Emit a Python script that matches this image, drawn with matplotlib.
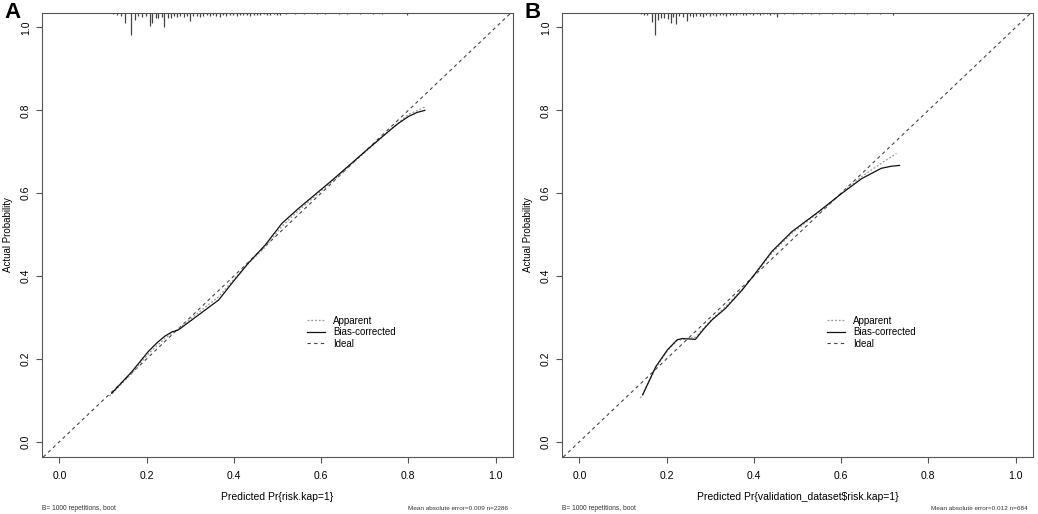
import numpy as np
import matplotlib
matplotlib.use('Agg')
import matplotlib.pyplot as plt

plt.rcParams['font.family'] = ['Liberation Sans', 'DejaVu Sans']

# panel A: calibration curves (predicted, actual)
a_bias_x = [0.120, 0.166, 0.204, 0.225, 0.242, 0.258, 0.273, 0.319, 0.365, 0.395,
            0.433, 0.472, 0.510, 0.548, 0.625, 0.700, 0.750, 0.775, 0.800, 0.820, 0.838]
a_bias_y = [0.117, 0.169, 0.218, 0.240, 0.255, 0.265, 0.270, 0.306, 0.342, 0.382,
            0.431, 0.475, 0.527, 0.563, 0.631, 0.700, 0.745, 0.767, 0.785, 0.795, 0.800]
a_app_x = [0.115, 0.166, 0.204, 0.242, 0.273, 0.319, 0.365, 0.395, 0.433, 0.472,
           0.510, 0.548, 0.625, 0.700, 0.750, 0.800, 0.838]
a_app_y = [0.110, 0.165, 0.212, 0.250, 0.272, 0.312, 0.350, 0.386, 0.430, 0.470,
           0.520, 0.558, 0.628, 0.698, 0.745, 0.790, 0.808]

# panel A: distribution of predicted risk (position, height in px-ish units)
a_rug_x = [0.122, 0.131, 0.141, 0.151, 0.164, 0.174, 0.181, 0.189, 0.198, 0.208,
           0.213, 0.221, 0.227, 0.235, 0.240, 0.248, 0.256, 0.263, 0.270, 0.277,
           0.285, 0.292, 0.300, 0.307, 0.315, 0.322, 0.330, 0.338, 0.345, 0.353,
           0.360, 0.368, 0.376, 0.383, 0.391, 0.398, 0.406, 0.414, 0.421, 0.429,
           0.437, 0.445, 0.452, 0.460, 0.468, 0.475, 0.483, 0.491, 0.498, 0.506,
           0.520, 0.540, 0.560, 0.590, 0.610, 0.640, 0.660, 0.690, 0.720, 0.740, 0.797]
a_rug_h = [1, 2, 3, 10, 22, 7, 3, 4, 3, 13,
           10, 5, 5, 4, 14, 5, 5, 3, 4, 3,
           4, 3, 8, 3, 3, 4, 3, 2, 3, 2,
           3, 4, 2, 3, 2, 2, 3, 2, 2, 2,
           3, 2, 2, 2, 1, 2, 2, 1, 2, 2,
           1, 1, 1, 1, 1, 1, 1, 1, 1, 1, 2]

# panel B
b_bias_x = [0.145, 0.175, 0.202, 0.224, 0.236, 0.251, 0.266, 0.285, 0.304, 0.335,
            0.373, 0.403, 0.441, 0.487, 0.548, 0.601, 0.647, 0.692, 0.715, 0.734]
b_bias_y = [0.113, 0.181, 0.222, 0.246, 0.249, 0.248, 0.247, 0.272, 0.294, 0.322,
            0.366, 0.406, 0.459, 0.507, 0.555, 0.599, 0.635, 0.660, 0.665, 0.667]
b_app_x = [0.140, 0.175, 0.202, 0.224, 0.251, 0.266, 0.304, 0.335, 0.373, 0.403,
           0.441, 0.487, 0.548, 0.601, 0.647, 0.692, 0.727]
b_app_y = [0.105, 0.178, 0.220, 0.244, 0.250, 0.252, 0.296, 0.326, 0.368, 0.404,
           0.455, 0.503, 0.553, 0.600, 0.640, 0.672, 0.696]

b_rug_x = [0.141, 0.148, 0.156, 0.166, 0.173, 0.179, 0.186, 0.194, 0.202, 0.209,
           0.215, 0.222, 0.229, 0.237, 0.246, 0.253, 0.261, 0.268, 0.276, 0.284,
           0.291, 0.299, 0.306, 0.314, 0.322, 0.329, 0.337, 0.345, 0.352, 0.360,
           0.368, 0.375, 0.383, 0.391, 0.398, 0.406, 0.414, 0.421, 0.429, 0.437,
           0.445, 0.454, 0.470, 0.490, 0.510, 0.530, 0.550, 0.580, 0.610, 0.630,
           0.660, 0.690, 0.720]
b_rug_h = [1, 2, 2, 9, 22, 7, 5, 5, 6, 10,
           4, 11, 3, 4, 8, 3, 4, 3, 3, 4,
           2, 3, 2, 3, 2, 2, 3, 2, 2, 2,
           1, 2, 2, 1, 2, 1, 2, 1, 1, 2,
           1, 4, 1, 1, 1, 1, 1, 1, 1, 1,
           1, 1, 2]

panels = [
    ('A', a_bias_x, a_bias_y, a_app_x, a_app_y, a_rug_x, a_rug_h,
     'Predicted Pr{risk.kap=1}', 'Mean absolute error=0.009 n=2286'),
    ('B', b_bias_x, b_bias_y, b_app_x, b_app_y, b_rug_x, b_rug_h,
     'Predicted Pr{validation_dataset$risk.kap=1}', 'Mean absolute error=0.012 n=684'),
]

W, H = 1038, 514
fig = plt.figure(figsize=(W / 100, H / 100), dpi=100)

lefts = [42, 562]
ylim = (-0.037, 1.035)
for (tag, bx, by, apx, apy, rx, rh, xlab, mae), left in zip(panels, lefts):
    ax = fig.add_axes([left / W, 57 / H, 471 / W, 444 / H])
    ax.set_xlim(-0.04, 1.04)
    ax.set_ylim(*ylim)

    # ideal line across the whole box
    ax.axline((0, 0), (1, 1), color='#444444', lw=0.8, ls=(0, (3, 3)), label='Ideal')
    ax.plot(apx, apy, color='#9a9a9a', lw=0.9, ls=(0, (1.5, 1.5)), label='Apparent')
    ax.plot(bx, by, color='#111111', lw=0.9, label='Bias-corrected')

    # rug of predicted risks hanging from the top
    top = ylim[1]
    ax.vlines(rx, top - np.array(rh) / 415.0, top, color='#444444', lw=0.9)

    h, l = ax.get_legend_handles_labels()
    order = [1, 2, 0]
    ax.legend([h[i] for i in order], [l[i] for i in order], loc='upper left',
              bbox_to_anchor=(0.563, 0.318), frameon=False, fontsize=7,
              handlelength=1.8, handletextpad=0.85, labelspacing=0.15,
              borderaxespad=0, borderpad=0)

    for s in ax.spines.values():
        s.set_color('#555555')
        s.set_linewidth(0.8)

    ticks = [0.0, 0.2, 0.4, 0.6, 0.8, 1.0]
    ax.set_xticks(ticks)
    ax.set_yticks(ticks)
    ax.set_xticklabels(['%.1f' % t for t in ticks])
    ax.set_yticklabels(['%.1f' % t for t in ticks], rotation=90, va='center')
    ax.tick_params(direction='out', length=4, width=0.8, color='#555555',
                   labelsize=7.5, pad=4)
    ax.tick_params(axis='x', pad=6)

    ax.set_xlabel(xlab, fontsize=7.5)
    ax.xaxis.set_label_coords(0.5, -0.078)
    ax.set_ylabel('Actual Probability', fontsize=7)
    ax.yaxis.set_label_coords(-0.061, 0.5)

    fig.text(left / W, 6 / H, 'B= 1000 repetitions, boot', fontsize=4.8,
             va='center', ha='left', color='#333333')
    fig.text((left + 466) / W, 6 / H, mae, fontsize=4.6,
             va='center', ha='right', color='#333333')
    fig.text((left - 38) / W, 1 - 2 / H, tag, fontsize=16, fontweight='bold',
             va='top', ha='left')

fig.savefig('out.png', dpi=100)
